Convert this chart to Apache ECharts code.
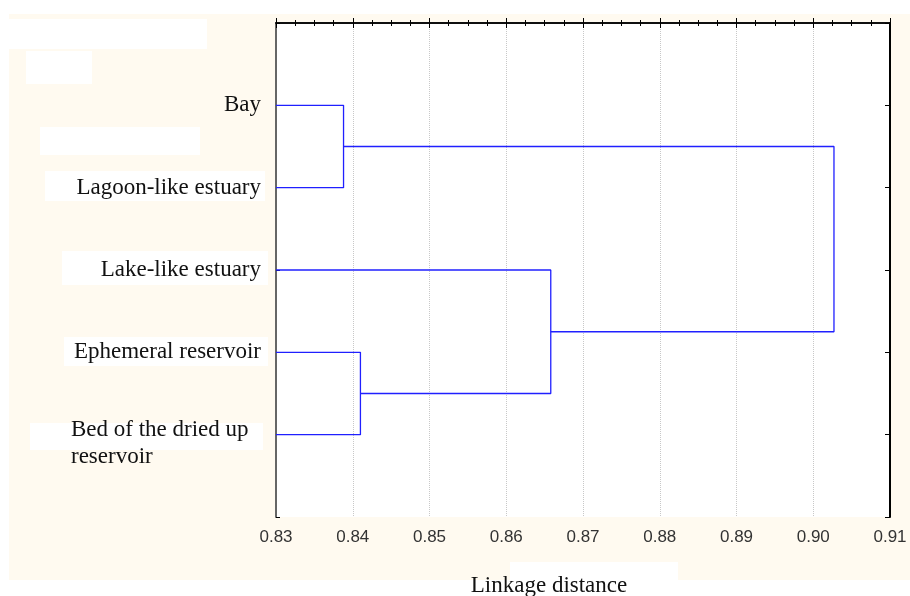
<!DOCTYPE html>
<html>
<head>
<meta charset="utf-8">
<script src="https://cdn.jsdelivr.net/npm/echarts@6/dist/echarts.min.js"></script>
<style>html,body{margin:0;padding:0;background:#fff;overflow:hidden;}#c{width:910px;height:596px;}</style>
</head>
<body>
<div id="c"></div>
<script>
// Leaves, top to bottom
const leafLabels = ['Bay', 'Lagoon-like estuary', 'Lake-like estuary', 'Ephemeral reservoir', 'Bed of the dried up\nreservoir'];
// Merges: node ids (0-4 leaves, 5+ clusters in merge order)
const mergePairs = [[0, 1], [3, 4], [2, 6], [5, 7]];
const mergeDistance = [0.8388, 0.8410, 0.8658, 0.9027];
const xTicks = [0.83, 0.84, 0.85, 0.86, 0.87, 0.88, 0.89, 0.90, 0.91];
const axisMin = 0.83, axisMax = 0.91;

// Build dendrogram paths
const nodeX = leafLabels.map(() => axisMin);
const nodeY = leafLabels.map((_, i) => i + 1);
const series = [];
mergePairs.forEach((p, k) => {
  const d = mergeDistance[k];
  const a = p[0], b = p[1];
  series.push({
    type: 'line', symbol: 'none', animation: false, clip: false, silent: true,
    lineStyle: { color: '#2020ff', width: 1.3 },
    data: [[nodeX[a], nodeY[a]], [d, nodeY[a]], [d, nodeY[b]], [nodeX[b], nodeY[b]]]
  });
  nodeX.push(d);
  nodeY.push((nodeY[a] + nodeY[b]) / 2);
});

const serif = "'Liberation Serif', 'Times New Roman', serif";
const chart = echarts.init(document.getElementById('c'), null, { renderer: 'canvas', width: 910, height: 596 });
chart.setOption({
  backgroundColor: '#ffffff',
  animation: false,
  graphic: [
    { type: 'rect', z: -10, shape: { x: 9, y: 14, width: 901, height: 566 }, style: { fill: '#fffaf0' } },
    { type: 'rect', z: -9, shape: { x: 9, y: 19, width: 198, height: 30 }, style: { fill: '#fff' } },
    { type: 'rect', z: -9, shape: { x: 26, y: 51, width: 66, height: 33 }, style: { fill: '#fff' } },
    { type: 'rect', z: -9, shape: { x: 40, y: 127, width: 160, height: 28 }, style: { fill: '#fff' } },
    { type: 'rect', z: -9, shape: { x: 45, y: 171, width: 220, height: 30 }, style: { fill: '#fff' } },
    { type: 'rect', z: -9, shape: { x: 62, y: 251, width: 206, height: 34 }, style: { fill: '#fff' } },
    { type: 'rect', z: -9, shape: { x: 64, y: 337, width: 204, height: 29 }, style: { fill: '#fff' } },
    { type: 'rect', z: -9, shape: { x: 30, y: 423, width: 233, height: 27 }, style: { fill: '#fff' } },
    { type: 'rect', z: -9, shape: { x: 510, y: 562, width: 168, height: 18 }, style: { fill: '#fff' } }
  ],
  grid: { left: 276, width: 614, top: 23, height: 494, show: true, backgroundColor: '#ffffff', borderWidth: 0,
          outerBoundsMode: 'none', containLabel: false },
  xAxis: [
    {
      type: 'value', position: 'bottom', min: axisMin, max: axisMax, interval: 0.01,
      axisLine: { show: true, lineStyle: { color: '#000', width: 1.5 } },
      axisTick: { show: true, inside: true, length: 5, lineStyle: { color: '#000' } },
      minorTick: { show: true, splitNumber: 4, length: 3, lineStyle: { color: '#000' } },
      splitLine: { show: true, lineStyle: { color: '#c8c8c8', type: 'dotted', width: 1 } },
      axisLabel: {
        margin: 12, color: '#333', fontSize: 17, fontFamily: "'Liberation Sans', Arial, sans-serif",
        formatter: (v) => { const s = v.toFixed(2); return xTicks.some(t => t.toFixed(2) === s) ? s : ''; }
      },
      name: 'Linkage distance', nameLocation: 'middle', nameGap: 57,
      nameTextStyle: { fontFamily: serif, fontSize: 23, color: '#111', padding: [0, 68, 0, 0] }
    },
    {
      type: 'value', position: 'top', min: axisMin, max: axisMax, interval: 0.01,
      axisLine: { show: true, lineStyle: { color: '#000', width: 1.5 } },
      axisTick: { show: true, inside: true, length: 5, lineStyle: { color: '#000' } },
      minorTick: { show: true, splitNumber: 4, length: 3, lineStyle: { color: '#000' } },
      splitLine: { show: false }, axisLabel: { show: false }
    }
  ],
  yAxis: [
    {
      type: 'value', position: 'left', min: 0, max: 6, interval: 1, inverse: true,
      axisLine: { show: true, lineStyle: { color: '#666', width: 2 } },
      axisTick: { show: true, inside: true, length: 4, lineStyle: { color: '#000' } },
      splitLine: { show: false },
      axisLabel: {
        margin: 15, color: '#111', fontFamily: serif, fontSize: 23,
        formatter: (v) => {
          const i = Math.round(v) - 1;
          if (i < 0 || i >= leafLabels.length) return '';
          const lines = leafLabels[i].split('\n');
          if (lines.length === 1) return '{a|' + lines[0] + '}';
          return '{s| }\n' + lines.map(l => '{b|' + l + '}').join('\n');
        },
        rich: {
          a: { fontFamily: serif, fontSize: 23, color: '#111' },
          b: { fontFamily: serif, fontSize: 23, color: '#111', width: 190, align: 'left', lineHeight: 27 },
          s: { fontSize: 2, height: 17, lineHeight: 17 }
        }
      }
    },
    {
      type: 'value', position: 'right', min: 0, max: 6, interval: 1, inverse: true,
      axisLine: { show: true, lineStyle: { color: '#000', width: 2 } },
      axisTick: { show: true, inside: true, length: 5, lineStyle: { color: '#000' } },
      splitLine: { show: false }, axisLabel: { show: false }
    }
  ],
  series: series
});
</script>
</body>
</html>
